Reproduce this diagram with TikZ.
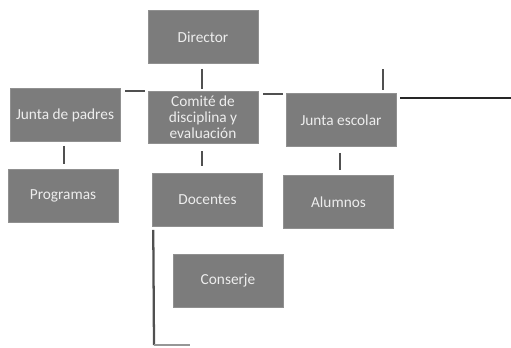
\documentclass[tikz,border=0pt]{standalone}
\usepackage{fontspec}
\setmainfont{Carlito}
\usetikzlibrary{calc}
\definecolor{boxgray}{HTML}{7C7C7C}
\definecolor{boxtext}{HTML}{EDEDED}
\definecolor{linegray}{HTML}{505050}
\begin{document}
\begin{tikzpicture}[x=0.75pt,y=-0.75pt,
  orgbox/.style={rectangle, fill=boxgray, draw=boxgray!85!white, line width=0.4pt,
    minimum width=82.5pt, minimum height=40pt, inner sep=1pt, text=boxtext,
    font=\fontsize{11.5}{11.8}\selectfont, align=center},
  link/.style={draw=linegray, line width=1.7pt},
  longlink/.style={draw=black!85, line width=1.6pt}]
\useasboundingbox (0,0) rectangle (511,347);
\node[orgbox] (dir) at (203,37) {Director};
\node[orgbox] (pad) at (65,115) {Junta de padres};
\node[orgbox, minimum height=39pt] (com) at (203,117) {Comité de\\disciplina y\\evaluación};
\node[orgbox] (esc) at (341,120) {Junta escolar};
\node[orgbox] (pro) at (63,196) {Programas};
\node[orgbox] (doc) at (207.5,200) {Docentes};
\node[orgbox] (alu) at (338.5,202) {Alumnos};
\node[orgbox] (con) at (228,281) {Conserje};
% vertical links
\draw[link, shorten <=3.75pt, shorten >=1.5pt] ([xshift=-0.75pt]dir.south) -- ([xshift=-0.75pt]dir.south |- com.north);
\draw[link, shorten <=3pt, shorten >=3.75pt] ([xshift=-0.75pt]pad.south) -- ([xshift=-0.75pt]pad.south |- pro.north);
\draw[link, shorten <=6pt, shorten >=5pt] ([xshift=-0.75pt]com.south) -- ([xshift=-0.75pt]com.south |- doc.north);
\draw[link, shorten <=4.5pt, shorten >=3.75pt] ([xshift=-0.75pt]esc.south) -- ([xshift=-0.75pt]esc.south |- alu.north);
% horizontal links
\draw[link, shorten <=3.75pt, shorten >=2.25pt] ([yshift=-2.25pt]pad.north east) -- ([yshift=-2.25pt]pad.north east -| com.west);
\draw[link, shorten <=3.75pt, shorten >=2.25pt] ([yshift=-0.75pt]com.north east |- esc.north) -- ([yshift=-0.75pt]esc.north west);
% free-ended links
\coordinate (t1) at (383,69);
\draw[link, shorten >=2.25pt] (t1) -- (t1 |- esc.north);
\coordinate (r1) at (511,98);
\draw[longlink, shorten <=3pt] (esc.east |- r1) -- (r1);
\coordinate (b1) at (154,345);
\coordinate (b2) at (190,345);
\draw[link, shorten <=2.25pt] ([xshift=0.75pt]doc.south west) -- (b1);
\draw[draw=linegray!60, line width=1pt] (b1) -- (b2);
\end{tikzpicture}
\end{document}
